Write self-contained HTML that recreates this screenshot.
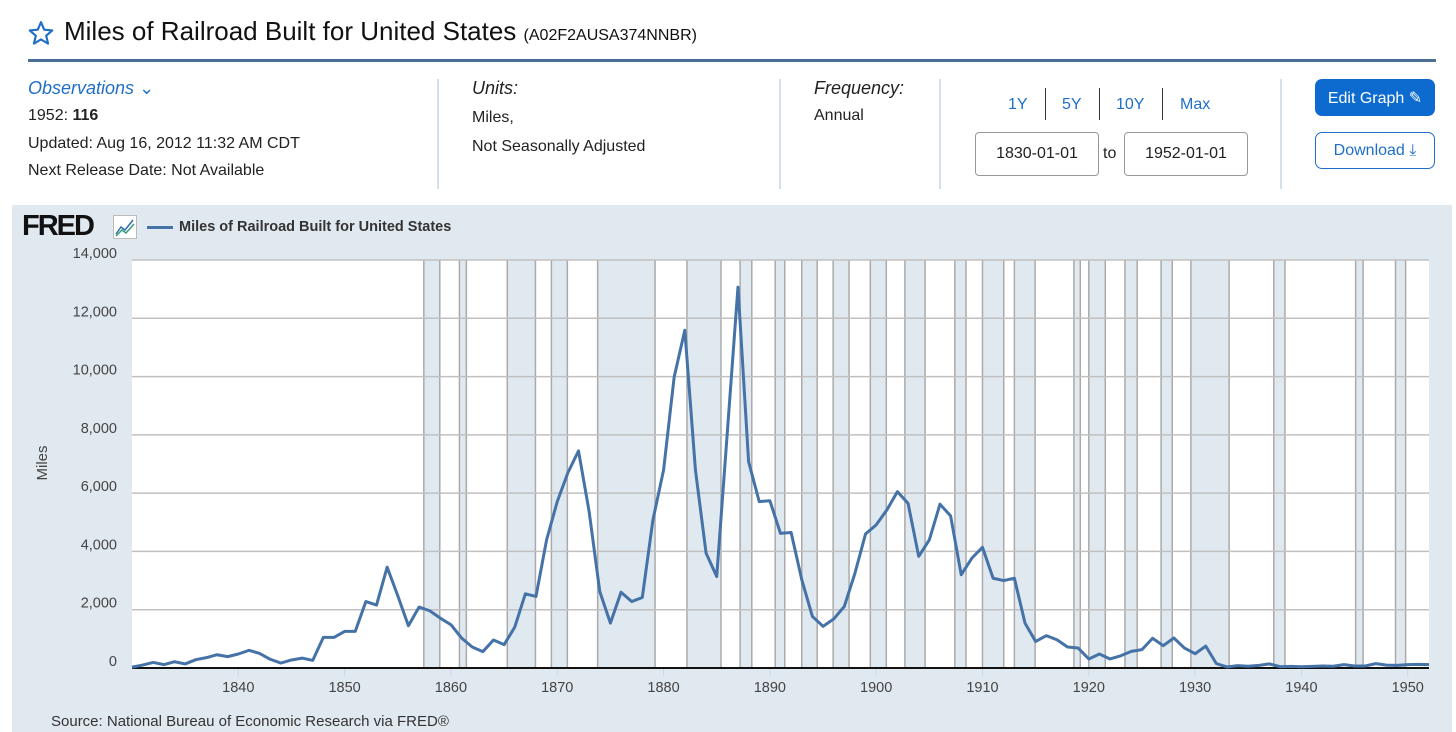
<!DOCTYPE html>
<html><head><meta charset="utf-8"><style>
body{margin:0;width:1456px;height:732px;background:#fff;font-family:"Liberation Sans",sans-serif;position:relative;overflow:hidden;color:#222}
.a{position:absolute;white-space:nowrap}
.vsep{position:absolute;width:2px;background:#d3e2ea}
.btn{position:absolute;border-radius:7px;font-size:16px;display:flex;align-items:center;justify-content:center}
.inp{position:absolute;border:1px solid #999;border-radius:4px;font-size:16px;display:flex;align-items:center;justify-content:center;width:122px;height:42px;background:#fff}
.rng{font-size:16px;color:#1f6fc9}
</style></head><body>
<svg class="a" style="left:28px;top:20px" width="26" height="26" viewBox="0 0 24 24"><path d="M12 2l3 6.9 7.4.7-5.6 4.9 1.7 7.3L12 17.9 5.5 21.8l1.7-7.3L1.6 9.6 9 8.9z" fill="none" stroke="#1f6fc9" stroke-width="2" stroke-linejoin="round"/></svg>
<div class="a" style="left:64px;top:16px;font-size:26px;color:#111">Miles of Railroad Built for United States <span style="font-size:16px">(A02F2AUSA374NNBR)</span></div>
<div class="a" style="left:28px;top:59px;width:1408px;height:3px;background:#4b6f94"></div>

<div class="a" style="left:28px;top:78px;font-size:18px;font-style:italic;color:#1f6fc9">Observations <span style="font-style:normal">&#8964;</span></div>
<div class="a" style="left:28px;top:107px;font-size:16px">1952: <b>116</b></div>
<div class="a" style="left:28px;top:135px;font-size:16px">Updated: Aug 16, 2012 11:32 AM CDT</div>
<div class="a" style="left:28px;top:162px;font-size:16px">Next Release Date: Not Available</div>
<div class="vsep" style="left:437px;top:79px;height:110px"></div>
<div class="a" style="left:472px;top:78px;font-size:18px;font-style:italic">Units:</div>
<div class="a" style="left:472px;top:103px;font-size:16px;line-height:29px">Miles,<br>Not Seasonally Adjusted</div>
<div class="vsep" style="left:779px;top:79px;height:110px"></div>
<div class="a" style="left:814px;top:78px;font-size:18px;font-style:italic">Frequency:</div>
<div class="a" style="left:814px;top:107px;font-size:16px">Annual</div>
<div class="vsep" style="left:939px;top:79px;height:110px"></div>
<div class="a rng" style="left:1008px;top:96px">1Y</div>
<div class="a" style="left:1045px;top:88px;width:1px;height:32px;background:#333"></div>
<div class="a rng" style="left:1062px;top:96px">5Y</div>
<div class="a" style="left:1099px;top:88px;width:1px;height:32px;background:#333"></div>
<div class="a rng" style="left:1116px;top:96px">10Y</div>
<div class="a" style="left:1162px;top:88px;width:1px;height:32px;background:#333"></div>
<div class="a rng" style="left:1180px;top:96px">Max</div>
<div class="inp" style="left:975px;top:132px">1830-01-01</div>
<div class="a" style="left:1103px;top:145px;font-size:16px">to</div>
<div class="inp" style="left:1124px;top:132px">1952-01-01</div>
<div class="vsep" style="left:1280px;top:79px;height:110px"></div>
<div class="btn" style="left:1315px;top:79px;width:120px;height:37px;background:#0d6bd0;color:#fff">Edit Graph &#9998;</div>
<div class="btn" style="left:1315px;top:132px;width:118px;height:35px;border:1px solid #1f6fc9;color:#1f6fc9;background:#fff">Download &#10515;</div>

<div class="a" style="left:12px;top:205px;width:1440px;height:527px;background:#e1e9f0"></div>
<div class="a" style="left:22px;top:210px;font-size:29px;font-weight:bold;letter-spacing:-2px;color:#111">FRED</div>
<svg class="a" style="left:113px;top:215px" width="24" height="24"><rect x="0.5" y="0.5" width="23" height="23" fill="#fff" stroke="#bbb"/><polyline points="3,19 8,12 12,15 20,5" fill="none" stroke="#2f6db0" stroke-width="1.5"/><polyline points="3,21 9,15 13,18 21,9" fill="none" stroke="#3a9a7a" stroke-width="1.5"/></svg>
<div class="a" style="left:147px;top:226px;width:26px;height:3px;background:#4572a7"></div>
<div class="a" style="left:179px;top:219px;font-size:14.5px;font-weight:bold;color:#333">Miles of Railroad Built for United States</div>
<div class="a" style="left:51px;top:713px;font-size:15px;color:#333">Source: National Bureau of Economic Research via FRED®</div>

<svg id="chart" class="a" style="left:0;top:0" width="1456" height="732"></svg>
<script>
const years=[];for(let y=1830;y<=1952;y++)years.push(y);
const miles=[30,100,190,115,215,140,285,355,455,390,480,605,500,300,170,275,340,260,1050,1050,1255,1255,2280,2160,3460,2480,1450,2090,1965,1710,1485,1030,720,560,960,800,1400,2545,2455,4400,5710,6700,7450,5365,2625,1540,2600,2280,2420,5080,6790,9990,11590,6790,3940,3140,8100,13070,7080,5710,5740,4620,4650,3030,1770,1430,1680,2110,3250,4600,4910,5420,6050,5650,3830,4400,5620,5220,3200,3770,4140,3080,3000,3080,1540,910,1110,970,720,685,310,480,310,420,570,630,1020,765,1030,685,490,750,150,35,80,60,90,140,45,55,45,55,70,60,115,70,70,150,100,90,115,125,116];
const recStart=[1857.45,1860.8,1865.3,1869.45,1873.8,1882.2,1887.2,1890.5,1893.0,1895.95,1899.45,1902.7,1907.4,1910.0,1913.0,1918.6,1920.0,1923.4,1926.8,1929.6,1937.4,1945.1,1948.85];
const recEnd=[1858.95,1861.45,1867.95,1870.95,1879.2,1885.4,1888.3,1891.4,1894.45,1897.45,1900.95,1904.6,1908.45,1912.0,1914.95,1919.2,1921.55,1924.55,1927.85,1933.2,1938.45,1945.8,1949.8];
const yTicks=[0,2000,4000,6000,8000,10000,12000,14000];
const xTicks=[1840,1850,1860,1870,1880,1890,1900,1910,1920,1930,1940,1950];
const L=132,R=1429,T=260,B=668;
const xs=t=>L+(t-1830)*(R-L)/122;
const ys=v=>B-v*(B-T)/14000;
const svg=document.getElementById('chart');const NS='http://www.w3.org/2000/svg';
function mk(tag,at){const e=document.createElementNS(NS,tag);for(const k in at)e.setAttribute(k,at[k]);svg.appendChild(e);return e;}
const bg=mk('rect',{x:L,y:T,width:R-L,height:B-T,fill:'#fff'});


recStart.forEach((s,i)=>{
  const r=mk('rect',{x:xs(s),y:T,width:xs(recEnd[i])-xs(s),height:B-T,fill:'#e1e9f0'});
  
  
  [s,recEnd[i]].forEach(t=>{const l=mk('line',{x1:xs(t),x2:xs(t),y1:T,y2:B,stroke:'#aaa','stroke-width':1.5});
  
  });
});
yTicks.forEach(v=>{
  if(v>0){const g=mk('line',{x1:L,x2:R,y1:ys(v),y2:ys(v),stroke:'#c0c0c0','stroke-width':1.5});
  
  }
  const t=mk('text',{x:117,y:ys(v)-2,'text-anchor':'end','font-size':14.5,fill:'#444','font-family':'Liberation Sans, sans-serif'});
  t.textContent=v.toLocaleString('en-US');
  
  
});
xTicks.forEach(v=>{
  const k=mk('line',{x1:xs(v),x2:xs(v),y1:B,y2:B+8,stroke:'#ccd6eb'});
  
  
  const t=mk('text',{x:xs(v),y:B+24,'text-anchor':'middle','font-size':14.5,fill:'#444','font-family':'Liberation Sans, sans-serif'});
  t.textContent=v;
  
  
});
const ax=mk('line',{x1:L,x2:R,y1:B,y2:B,stroke:'#111','stroke-width':2});


const yt=mk('text',{x:0,y:0,transform:'translate(47,463) rotate(-90)','text-anchor':'middle','font-size':15,fill:'#444','font-family':'Liberation Sans, sans-serif'});
yt.textContent='Miles';


const p=mk('polyline',{points:years.map((y,i)=>xs(y)+','+ys(miles[i])).join(' '),fill:'none',stroke:'#4572a7','stroke-width':3,'stroke-linejoin':'round'});


</script>
</body></html>
